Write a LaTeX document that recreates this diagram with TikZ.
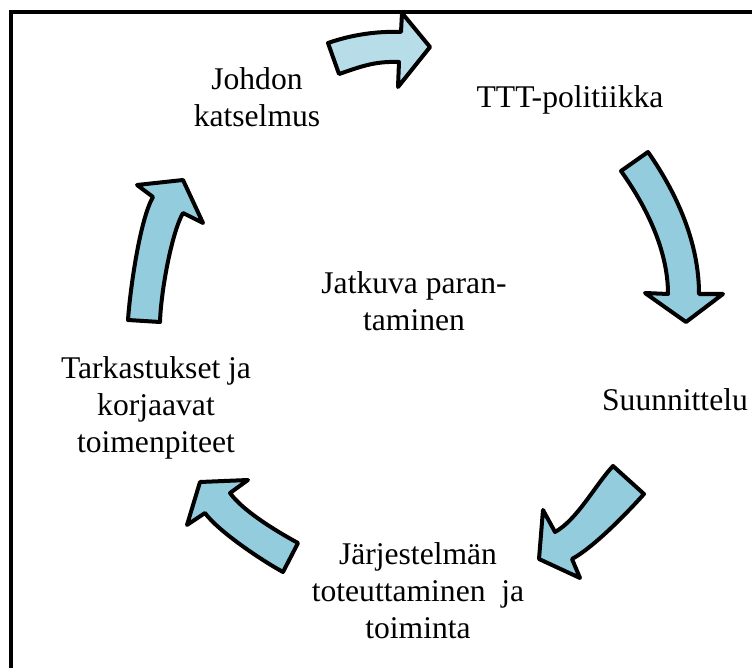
\documentclass[tikz,border=0pt]{standalone}
\usepackage{fontspec}
\setmainfont{Liberation Serif}
\definecolor{arrowfill}{HTML}{93CDDD}
\definecolor{arrowlight}{HTML}{B7DEE8}
\begin{document}
\begin{tikzpicture}[x=1pt,y=-1pt,
  lbl/.style={font=\fontsize{31.6}{37}\selectfont, align=center, inner sep=0pt},
  blockarrow/.style={draw=black, line width=4pt, line join=round, fill=arrowfill}]
\useasboundingbox (0,0) rectangle (752,668);
\fill[white] (0,0) rectangle (752,668);
% open frame: top and left edges only
\draw[line width=3.5pt] (752,12) -- (11,12) -- (11,668);

% stage labels
\node[lbl] (johdon) at (257,97) {Johdon\\katselmus};
\node[lbl] (ttt) at (570,100) {TTT-politiikka};
\node[lbl] (suun) at (675,400) {Suunnittelu};
\node[lbl] (jarj) at (418,591) {Järjestelmän\\toteuttaminen\ \ ja\\toiminta};
\node[lbl] (tark) at (156,408) {Tarkastukset ja\\korjaavat\\toimenpiteet};
\node[lbl] (jatk) at (414,301) {Jatkuva paran-\\taminen};

% curved block arrows of the cycle
% top: review -> policy
\draw[blockarrow, fill=arrowlight]
  (328,43) .. controls (351,35) and (376,31) .. (401,32)
  -- (402,13) -- (430,47) -- (398,87) -- (399,62)
  .. controls (374,61) and (360,67) .. (339,74) -- cycle;
% right: policy -> planning
\draw[blockarrow]
  (648,152) .. controls (678,195) and (699,244) .. (699,294)
  -- (723,294) -- (686,322) -- (645,293) -- (668,294)
  .. controls (668,250) and (646,206) .. (621,171) -- cycle;
% bottom right: planning -> implementation
\draw[blockarrow]
  (613,466) .. controls (596,484) and (577,520) .. (555,532)
  -- (543,510) -- (539,559) -- (580,578) -- (572,559)
  .. controls (594,547) and (627,513) .. (644,494) -- cycle;
% bottom left: implementation -> checking
\draw[blockarrow]
  (298,543) .. controls (276,531) and (243,511) .. (230,493)
  -- (248,480) -- (200,482) -- (187,525) -- (205,513)
  .. controls (218,531) and (261,560) .. (283,572) -- cycle;
% left: checking -> review
\draw[blockarrow]
  (128,320) .. controls (130,290) and (140,219) .. (153,197)
  -- (137,185) -- (183,180) -- (203,223) -- (183,213)
  .. controls (172,232) and (161,290) .. (160,322) -- cycle;
\end{tikzpicture}
\end{document}
